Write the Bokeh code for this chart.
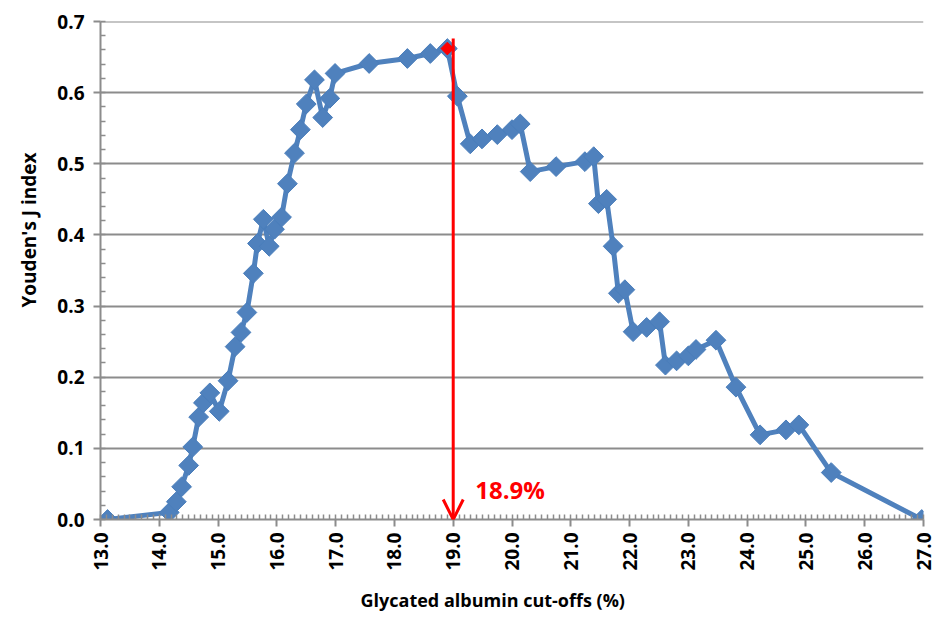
import math
from bokeh.plotting import figure
from bokeh.models import (Range1d, SingleIntervalTicker, NumeralTickFormatter, Arrow,
                          OpenHead, Label, Title)
from bokeh.embed import file_html
from bokeh.resources import INLINE

# ---- data ----
cutoffs = [13.12, 14.17, 14.29, 14.38, 14.50, 14.57, 14.67, 14.75, 14.86, 15.02,
           15.17, 15.29, 15.39, 15.49, 15.60, 15.67, 15.77, 15.87, 15.96, 16.08,
           16.18, 16.30, 16.40, 16.50, 16.64, 16.78, 16.90, 16.99, 17.57, 18.22,
           18.61, 18.90, 19.07, 19.29, 19.49, 19.75, 20.00, 20.14, 20.31, 20.75,
           21.24, 21.39, 21.47, 21.61, 21.72, 21.81, 21.92, 22.06, 22.29, 22.51,
           22.61, 22.80, 23.00, 23.13, 23.47, 23.81, 24.22, 24.66, 24.88, 25.43,
           26.97]
youden = [0.000, 0.010, 0.025, 0.046, 0.076, 0.102, 0.144, 0.164, 0.178, 0.152,
          0.195, 0.243, 0.263, 0.291, 0.346, 0.388, 0.422, 0.384, 0.408, 0.425,
          0.472, 0.515, 0.548, 0.584, 0.618, 0.565, 0.592, 0.627, 0.641, 0.648,
          0.655, 0.662, 0.595, 0.528, 0.535, 0.541, 0.548, 0.556, 0.489, 0.496,
          0.503, 0.510, 0.444, 0.450, 0.384, 0.318, 0.323, 0.264, 0.270, 0.278,
          0.217, 0.223, 0.230, 0.239, 0.252, 0.186, 0.119, 0.126, 0.133, 0.066,
          0.000]
best_cutoff = [18.90]
best_j = [0.662]
arrow_x = 19.0
arrow_top = 0.676
best_label = "18.9%"

x_min, x_max = 13.0, 27.0
y_min, y_max = 0.0, 0.70001

BLUE = "#4F81BD"
BLUE_EDGE = "#4A7EBB"
GRID = "#8C8C8C"
FONT = "Open Sans"

p = figure(width=937, height=624, output_backend="svg", toolbar_location=None,
           x_range=Range1d(x_min, x_max), y_range=Range1d(y_min, y_max),
           min_border_left=100, min_border_right=14, min_border_top=21,
           min_border_bottom=104)
p.outline_line_color = None
p.background_fill_color = "white"
p.border_fill_color = "white"

# axes
p.xaxis.ticker = SingleIntervalTicker(interval=1.0, num_minor_ticks=10)
p.yaxis.ticker = SingleIntervalTicker(interval=0.1, num_minor_ticks=5)
p.xaxis.formatter = NumeralTickFormatter(format="0.0")
p.yaxis.formatter = NumeralTickFormatter(format="0.0")
p.xaxis.major_label_orientation = math.pi / 2
for ax in (p.xaxis, p.yaxis):
    ax.axis_line_color = GRID
    ax.axis_line_width = 2
    ax.major_tick_line_color = GRID
    ax.major_tick_line_width = 2
    ax.minor_tick_line_color = GRID
    ax.minor_tick_line_width = 1.5
    ax.major_tick_out = 7
    ax.major_tick_in = 0
    ax.minor_tick_in = 5
    ax.minor_tick_out = 0
    ax.major_label_text_font = FONT
    ax.major_label_text_font_style = "bold"
    ax.major_label_text_font_size = "19px"
    ax.major_label_text_color = "black"
p.yaxis.major_label_standoff = 9
p.xaxis.major_label_standoff = 6

p.xgrid.grid_line_color = None
p.ygrid.grid_line_color = GRID
p.ygrid.grid_line_width = 2

# axis titles
yt = Title(text="Youden's J index", align="left", offset=212,
           vertical_align="top",
           text_font=FONT, text_font_style="bold", text_font_size="19px",
           text_color="black", standoff=21)
p.add_layout(yt, "left")
xt = Title(text="Glycated albumin cut-offs (%)", align="left", offset=260,
           text_font=FONT, text_font_style="bold", text_font_size="18px",
           text_color="black", standoff=25)
p.add_layout(xt, "below")

# series
p.line(cutoffs, youden, line_color=BLUE, line_width=5, line_join="round")
p.scatter(cutoffs, youden, marker="square", angle=math.pi / 4, size=14,
          fill_color=BLUE, line_color=BLUE_EDGE, line_width=1)
p.scatter(best_cutoff, best_j, marker="square", angle=math.pi / 4, size=9,
          fill_color="red", line_color="red")

# red arrow to optimal cut-off
p.add_layout(Arrow(x_start=arrow_x, y_start=arrow_top, x_end=arrow_x, y_end=y_min,
                   line_color="red", line_width=3,
                   end=OpenHead(size=20, line_color="red", line_width=3)))
p.add_layout(Label(x=arrow_x, y=y_min, x_offset=22, y_offset=30, text=best_label,
                   text_color="red", text_font=FONT, text_font_style="bold",
                   text_font_size="24px", text_baseline="alphabetic"))

open("out.html", "w").write(file_html(p, INLINE))
